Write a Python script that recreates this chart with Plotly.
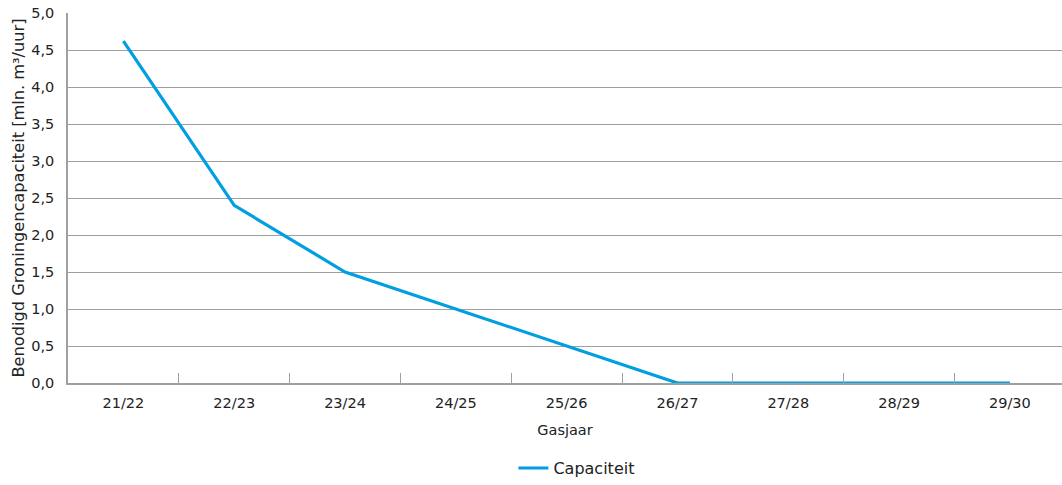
import plotly.graph_objects as go

categories = ["21/22", "22/23", "23/24", "24/25", "25/26", "26/27", "27/28", "28/29", "29/30"]
capaciteit = [4.62, 2.4, 1.5, 1.0, 0.5, 0.0, 0.0, 0.0, 0.0]
y_ticks = [0, 0.5, 1.0, 1.5, 2.0, 2.5, 3.0, 3.5, 4.0, 4.5, 5.0]
y_tick_labels = ["0,0", "0,5", "1,0", "1,5", "2,0", "2,5", "3,0", "3,5", "4,0", "4,5", "5,0"]

fig = go.Figure()
fig.add_trace(go.Scatter(
    x=categories, y=capaciteit, mode="lines", name="Capaciteit",
    line=dict(color="#009ee2", width=3.2), cliponaxis=False,
))

fig.update_layout(
    width=1062, height=485,
    margin=dict(l=68, r=0, t=13, b=102, autoexpand=False),
    paper_bgcolor="white", plot_bgcolor="white",
    font=dict(family="DejaVu Sans, sans-serif", size=14.5, color="#222222"),
    showlegend=True,
    legend=dict(orientation="h", x=0.512, xanchor="center", y=-0.23, yanchor="middle",
                font=dict(size=16)),
    xaxis=dict(
        type="category", range=[-0.5, 8.47], automargin=False,
        tickson="boundaries", ticks="inside", ticklen=10, tickcolor="#a0a0a0",
        showgrid=False, showline=True, linecolor="#a0a0a0", linewidth=1.5,
        title=dict(text="Gasjaar", standoff=15, font=dict(size=14.5)),
        ticklabelstandoff=6,
    ),
    yaxis=dict(
        range=[0, 5], tickvals=y_ticks, ticktext=y_tick_labels, automargin=False,
        showgrid=True, gridcolor="#a0a0a0", gridwidth=1,
        showline=True, linecolor="#a0a0a0", linewidth=1.5,
        zeroline=False, ticks="", ticklabelstandoff=9,
        title=dict(text="Benodigd Groningencapaciteit [mln. m³/uur]", standoff=3, font=dict(size=16.2)),
    ),
)

fig.write_html("out.html", config={"displayModeBar": False},
               post_script="document.body.style.margin='0';")
